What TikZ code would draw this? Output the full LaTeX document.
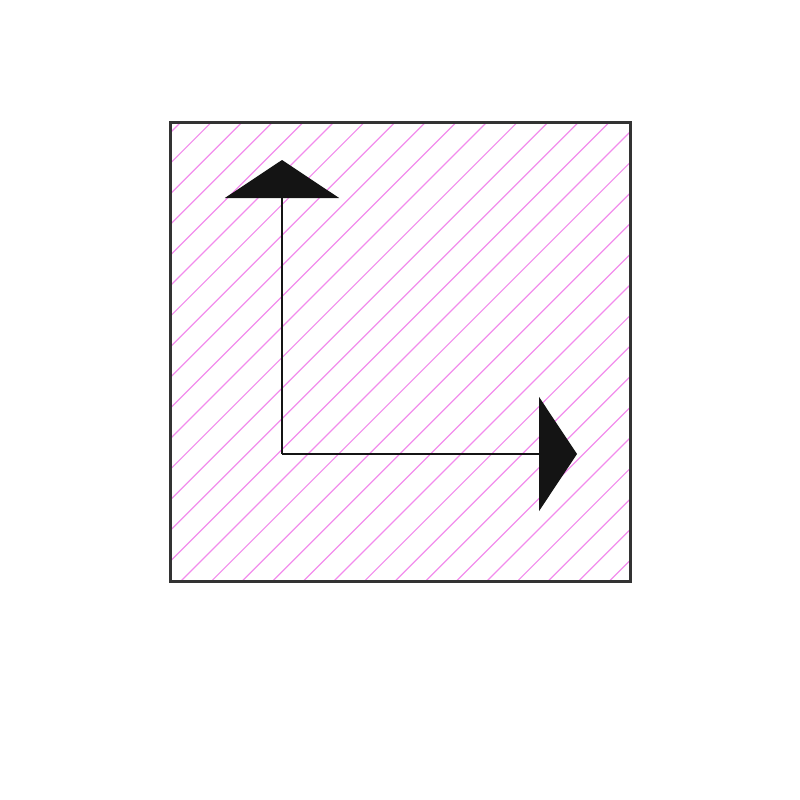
\documentclass[tikz,border=0pt]{standalone}
\usetikzlibrary{arrows.meta}
\definecolor{hatchpink}{RGB}{242,140,236}
\definecolor{framegray}{RGB}{51,51,51}
\definecolor{axisblack}{RGB}{20,20,20}

\begin{document}
\begin{tikzpicture}[
                x=1pt, y=-1pt,
                hatch/.style={draw=hatchpink, line width=1.2pt},
                frame/.style={draw=framegray, line width=3pt},
                axis/.style={draw=axisblack, line width=2pt,
                    -{Triangle[length=38pt, width=114pt]}}]

    \useasboundingbox (0,0) rectangle (800,800);

    %%% POINTS
    \coordinate (boxnw) at (170,122);
    \coordinate (boxse) at (630,581);
    \coordinate (origin) at (282,454);
    \coordinate (uptip) at (282,160);
    \coordinate (righttip) at (577,454);

    %%% HATCHING
    \begin{scope}
        \clip (boxnw) rectangle (boxse);
        \foreach \k in {-1,...,31}
            \path [hatch] (303+30.6*\k-620,620) -- (303+30.6*\k-100,100);
    \end{scope}
    \path [frame] (boxnw) rectangle (boxse);

    %%% AXES
    \path [axis] (origin) -- (uptip);
    \path [axis] (origin) -- (righttip);

\end{tikzpicture}
\end{document}
